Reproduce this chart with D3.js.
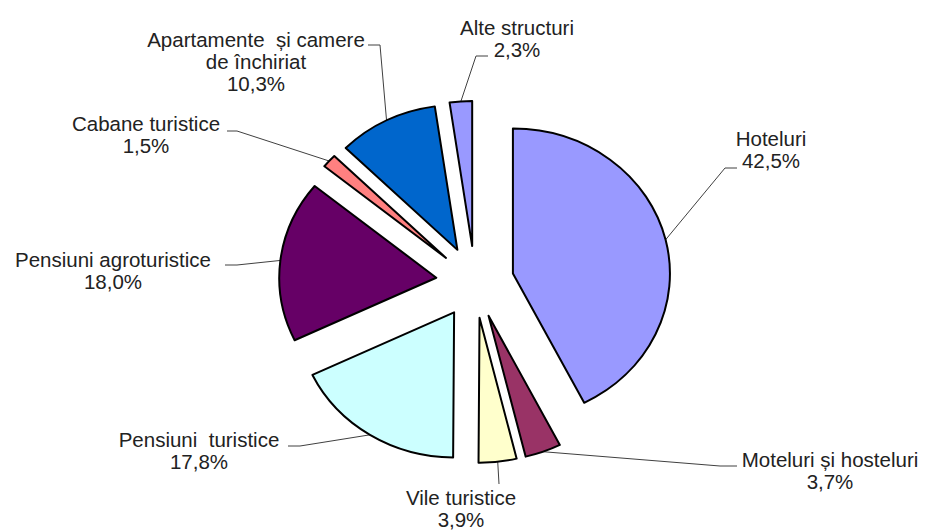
<!DOCTYPE html>
<html>
<head>
<meta charset="utf-8">
<script src="https://cdn.jsdelivr.net/npm/d3@7"></script>
<style>
  body { margin: 0; background: #fff; }
  svg text { font-family: "Liberation Sans", Arial, sans-serif; font-size: 20.5px; fill: #222; white-space: pre; }
</style>
</head>
<body>
<script>
// data, clockwise from 12 o'clock
const categories = ["Hoteluri", "Moteluri și hosteluri", "Vile turistice", "Pensiuni  turistice",
  "Pensiuni agroturistice", "Cabane turistice", "Apartamente  și camere\nde închiriat", "Alte structuri"];
const shares = [42.5, 3.7, 3.9, 17.8, 18.0, 1.5, 10.3, 2.3];

const colors = ["#9999FF", "#993366", "#FFFFCC", "#CCFFFF", "#660066", "#FF8080", "#0066CC", "#9999FF"];

const w = 925, h = 530;
const cx = 475, cy = 282, R = 145, sx = 1.083, explode = 36, lineH = 22;

// label anchor (center x, first baseline) and leader bends
const labelLayout = [
  {x: 771, y: 146, bend: [[725, 168], [737, 168]]},
  {x: 830, y: 467, bend: [[720, 466], [737, 466]]},
  {x: 461, y: 505, bend: [[499, 484]]},
  {x: 199, y: 447, bend: [[300, 446], [288, 446]]},
  {x: 113, y: 267, bend: [[237, 265], [225, 265]]},
  {x: 146, y: 131, bend: [[237, 131], [227, 131]]},
  {x: 256, y: 47, bend: [[380, 45], [368, 45]]},
  {x: 517, y: 35, bend: [[476, 56], [488, 56]]}
];

const fmt = v => d3.format(".1f")(v).replace(".", ",") + "%";

const svg = d3.select("body").append("svg")
  .attr("width", w)
  .attr("height", h);

const pie = d3.pie().sort(null).value(d => d);
const arcs = pie(shares);
const arc = d3.arc().innerRadius(0).outerRadius(R);

const offs = arcs.map(a => {
  const mid = (a.startAngle + a.endAngle) / 2;
  return {mid, dx: explode * Math.sin(mid), dy: -explode * Math.cos(mid)};
});

// leader lines first so the slices sit on top
const line = d3.line();
svg.append("g").selectAll("path")
  .data(arcs)
  .enter()
  .append("path")
  .attr("d", (d, i) => {
    const o = offs[i];
    const start = [cx + sx * (o.dx + R * Math.sin(o.mid)), cy + o.dy - R * Math.cos(o.mid)];
    return line([start].concat(labelLayout[i].bend));
  })
  .attr("fill", "none")
  .attr("stroke", "#404040")
  .attr("stroke-width", 1);

const pieG = svg.append("g")
  .attr("transform", "translate(" + cx + "," + cy + ") scale(" + sx + ",1)");

pieG.selectAll("path")
  .data(arcs)
  .enter()
  .append("path")
  .attr("d", arc)
  .attr("transform", (d, i) => "translate(" + offs[i].dx + "," + offs[i].dy + ")")
  .attr("fill", (d, i) => colors[i])
  .attr("stroke", "#000")
  .attr("stroke-width", 2)
  .attr("stroke-linejoin", "round")
  .attr("vector-effect", "non-scaling-stroke");

// labels
const labels = svg.append("g").selectAll("text")
  .data(arcs)
  .enter()
  .append("text")
  .attr("text-anchor", "middle")
  .attr("x", (d, i) => labelLayout[i].x)
  .attr("y", (d, i) => labelLayout[i].y);

labels.each(function(d, i) {
  const parts = categories[i].split("\n").concat([fmt(shares[i])]);
  d3.select(this).selectAll("tspan")
    .data(parts)
    .enter()
    .append("tspan")
    .attr("x", labelLayout[i].x)
    .attr("dy", (p, j) => j === 0 ? 0 : lineH)
    .text(p => p);
});
</script>
</body>
</html>
